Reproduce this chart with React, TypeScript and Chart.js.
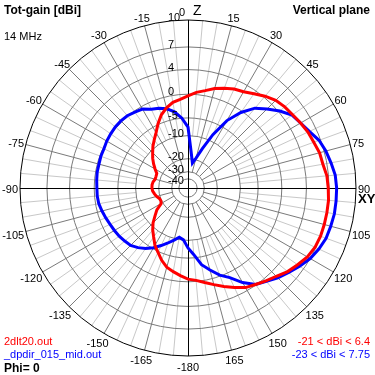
import React, { useEffect, useRef } from 'react';
import { Chart, registerables } from 'chart.js';

Chart.register(...registerables);

// Elevation angle, clockwise from zenith (Z). Values above 180 stand for negative angles (a - 360).
const ANGLES = [
  0, 5, 10, 15, 20, 25, 30, 35, 40, 45, 50, 55, 60, 65, 70, 75, 80, 85,
  90, 95, 100, 105, 110, 115, 120, 125, 130, 135, 140, 145, 150, 155, 160, 165, 170, 175,
  180, 185, 190, 195, 200, 205, 210, 215, 220, 225, 230, 235, 240, 245, 250, 255, 260, 265,
  270, 275, 280, 285, 290, 295, 300, 305, 310, 315, 320, 325, 330, 335, 340, 345, 350, 355,
];

// 2dlt20.out  (dBi)
const RED_DB = [
  -0.3, 0.4, 0.9, 1.6, 2.1, 2.6, 2.9, 3.5, 4.2, 4.8, 5.1, 5.3, 5.6, 5.9, 6.1, 6.4, 6.5, 6.8,
  6.9, 7.0, 7.0, 7.0, 7.0, 6.9, 6.6, 6.1, 5.6, 4.9, 4.4, 3.9, 3.5, 2.7, 1.9, 1.1, 0.4, -0.2,
  -0.5, -1.1, -1.7, -2.3, -3.4, -4.8, -6.0, -7.7, -9.2, -11.0, -13.4, -15.5, -19.0, -19.6, -19.3, -18.2, -17.4, -16.7,
  -16.4, -16.4, -16.7, -17.4, -17.4, -17.2, -15.5, -13.8, -12.2, -10.8, -9.3, -8.0, -6.6, -4.8, -3.2, -2.1, -1.3, -0.9,
];

// _dpdir_015_mid.out  (dBi)
const BLUE_DB = [
  -7.4, -16.4, -22.4, -19.0, -13.8, -8.0, -3.2, -0.3, 1.8, 3.0, 4.2, 5.2, 5.6, 6.1, 6.8, 7.2, 7.5, 7.8,
  7.9, 7.9, 7.9, 7.8, 7.7, 7.4, 7.0, 6.4, 5.8, 5.2, 4.5, 3.9, 2.6, 0.9, -0.2, -1.7, -3.2, -5.8,
  -7.7, -10.1, -10.8, -9.5, -8.1, -6.7, -5.3, -4.1, -3.2, -2.5, -2.2, -1.9, -1.7, -1.5, -1.2, -0.9, -0.6, -0.5,
  -0.5, -0.4, -0.3, -0.3, -0.2, -0.2, 0.0, 0.1, 0.2, 0.2, 0.1, -0.2, -0.5, -1.3, -1.7, -2.3, -3.3, -5.0,
];

const RING_DB = [10, 7, 4, 0, -5, -10, -20, -30, -40];
const ANGLE_TICKS = [0, 15, 30, 45, 60, 75, 90, 105, 120, 135, 150, 165, 180, 195, 210, 225, 240, 255, 270, 285, 300, 315, 330, 345];

const TITLE = 'Tot-gain [dBi]';
const PLANE = 'Vertical plane';
const FREQ = '14 MHz';
const RED_NAME = '2dlt20.out';
const BLUE_NAME = '_dpdir_015_mid.out';
const RED_RANGE = '-21 < dBi < 6.4';
const BLUE_RANGE = '-23 < dBi < 7.75';
const PHI = 'Phi= 0';

const MAX_DB = 10;
const toR = (db: number) => Math.pow(0.89, (MAX_DB - db) / 2);

const FONT = '"Liberation Sans", Arial, sans-serif';
const RING_COLOR = '#7a7a7a';
const MAJOR_SPOKE = '#7a7a7a';
const MINOR_SPOKE = '#c8c8c8';
const RED = '#ff0000';
const BLUE = '#0000ff';

const gridPlugin = {
  id: 'eznecGrid',
  beforeDraw(chart: any) {
    const ctx = chart.ctx;
    const s = chart.scales.r;
    ctx.save();
    ctx.fillStyle = '#ffffff';
    ctx.fillRect(0, 0, chart.width, chart.height);
    const xc = s.xCenter, yc = s.yCenter, R = s.drawingArea;
    const rMinor = s.getDistanceFromCenterForValue(toR(-10));
    const rMajor = s.getDistanceFromCenterForValue(toR(-30));
    ctx.lineWidth = 1;
    for (let a = 0; a < 360; a += 5) {
      if (a % 90 === 0) continue;
      const major = a % 15 === 0;
      const r0 = major ? rMajor : rMinor;
      const th = (a * Math.PI) / 180;
      const sn = Math.sin(th), cs = Math.cos(th);
      ctx.strokeStyle = major ? MAJOR_SPOKE : MINOR_SPOKE;
      ctx.beginPath();
      ctx.moveTo(xc + r0 * sn, yc - r0 * cs);
      ctx.lineTo(xc + R * sn, yc - R * cs);
      ctx.stroke();
    }
    ctx.restore();
  },
  beforeDatasetsDraw(chart: any) {
    const ctx = chart.ctx;
    const s = chart.scales.r;
    const xc = s.xCenter, yc = s.yCenter, R = s.drawingArea;
    ctx.save();
    ctx.strokeStyle = '#000000';
    ctx.lineWidth = 1;
    ctx.beginPath();
    ctx.moveTo(xc - R, Math.round(yc) + 0.5);
    ctx.lineTo(xc + R, Math.round(yc) + 0.5);
    ctx.moveTo(Math.round(xc) + 0.5, yc - R);
    ctx.lineTo(Math.round(xc) + 0.5, yc + R);
    ctx.stroke();
    ctx.restore();
  },
  afterDraw(chart: any) {
    const ctx = chart.ctx;
    const s = chart.scales.r;
    const xc = s.xCenter, yc = s.yCenter, R = s.drawingArea;
    ctx.save();
    ctx.fillStyle = '#000000';
    ctx.font = `11px ${FONT}`;
    ctx.textBaseline = 'middle';
    // angle labels
    for (const a of ANGLE_TICKS) {
      const th = (a * Math.PI) / 180;
      const sn = Math.sin(th), cs = Math.cos(th);
      if (a === 0) {
        ctx.textAlign = 'right';
        ctx.fillText('0', xc - 3, yc - R - 7.5);
        continue;
      }
      const txt = a === 180 ? '-180' : a > 180 ? String(a - 360) : String(a);
      const w = ctx.measureText(txt).width;
      ctx.textAlign = 'center';
      ctx.fillText(txt, xc + (R + 2 + w / 2) * sn, yc - (R + 9.5) * cs + 2);
    }
    // ring labels
    ctx.textAlign = 'left';
    let prev = -Infinity;
    for (const db of RING_DB) {
      const ry = yc - s.getDistanceFromCenterForValue(toR(db));
      const y = Math.max(ry - 2, prev + 11);
      prev = y;
      ctx.fillText(String(db), xc - 20, y);
    }
    // axis names
    ctx.font = `14px ${FONT}`;
    ctx.fillText('Z', xc + 5, yc - R - 8.5);
    ctx.font = `bold 13px ${FONT}`;
    ctx.fillText('XY', xc + R + 2, yc + 11.5);
    // titles
    ctx.textBaseline = 'alphabetic';
    ctx.font = `bold 12px ${FONT}`;
    ctx.textAlign = 'left';
    ctx.fillText(TITLE, 4, 14);
    ctx.textAlign = 'right';
    ctx.fillText(PLANE, 370, 14);
    ctx.font = `11px ${FONT}`;
    ctx.textAlign = 'left';
    ctx.fillText(FREQ, 4, 40);
    ctx.fillStyle = RED;
    ctx.fillText(RED_NAME, 4, 345);
    ctx.fillStyle = BLUE;
    ctx.fillText(BLUE_NAME, 4, 358);
    ctx.textAlign = 'right';
    ctx.fillStyle = RED;
    ctx.fillText(RED_RANGE, 370, 345);
    ctx.fillStyle = BLUE;
    ctx.fillText(BLUE_RANGE, 370, 358);
    ctx.fillStyle = '#000000';
    ctx.textAlign = 'left';
    ctx.font = `bold 12px ${FONT}`;
    ctx.fillText(PHI, 4, 372);
    ctx.restore();
  },
};

export default function App() {
  const ref = useRef<HTMLCanvasElement | null>(null);
  useEffect(() => {
    if (!ref.current) return;
    const chart = new Chart(ref.current, {
      type: 'radar',
      data: {
        labels: ANGLES.map(String),
        datasets: [
          {
            label: RED_NAME,
            data: RED_DB.map(toR),
            borderColor: RED,
            borderWidth: 3,
            pointRadius: 0,
            fill: false,
            tension: 0,
          },
          {
            label: BLUE_NAME,
            data: BLUE_DB.map(toR),
            borderColor: BLUE,
            borderWidth: 3,
            pointRadius: 0,
            fill: false,
            tension: 0,
          },
        ],
      },
      options: {
        responsive: false,
        animation: false,
        devicePixelRatio: 1,
        layout: { padding: { left: 20, right: 19, top: 20, bottom: 19 } },
        plugins: { legend: { display: false }, tooltip: { enabled: false }, title: { display: false } },
        scales: {
          r: {
            min: 0,
            max: 1,
            ticks: { display: false },
            afterBuildTicks: (scale: any) => {
              scale.ticks = [0, ...RING_DB.map(toR)].sort((a, b) => a - b).map((v) => ({ value: v }));
            },
            grid: {
              circular: true,
              lineWidth: 1,
              color: (c: any) => (c.tick && c.tick.value > 0.999 ? '#000000' : RING_COLOR),
            },
            angleLines: { display: false },
            pointLabels: { display: false },
          },
        },
      } as any,
      plugins: [gridPlugin],
    });
    return () => chart.destroy();
  }, []);
  return (
    <div style={{ position: 'absolute', left: 0, top: 0, width: 375, height: 375, background: '#fff' }}>
      <canvas ref={ref} width={375} height={375} style={{ display: 'block' }} />
    </div>
  );
}
